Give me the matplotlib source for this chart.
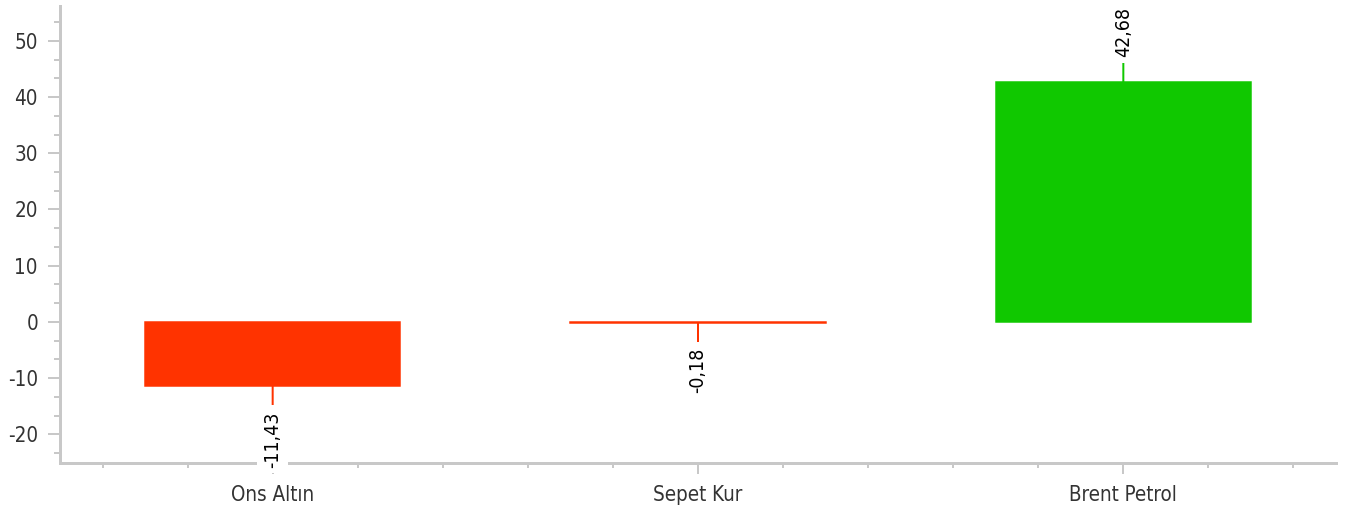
import matplotlib
matplotlib.use("Agg")
import matplotlib.pyplot as plt
from matplotlib.ticker import MultipleLocator, FixedLocator

categories = ["Ons Altın", "Sepet Kur", "Brent Petrol"]
values = [-11.43, -0.18, 42.68]
labels = ["-11,43", "-0,18", "42,68"]
colors = ["#ff3300", "#ff3300", "#10c800"]
yticks = [-20, -10, 0, 10, 20, 30, 40, 50]

DPI = 72
fig = plt.figure(figsize=(1354 / DPI, 508 / DPI), dpi=DPI)
ax = fig.add_axes([60 / 1354, 45 / 508, (1336 - 60) / 1354, 457 / 508])

FONT = dict(family=["DejaVu Sans"], stretch="condensed")
grey = "#c8c8c8"
txt = "#333333"

x = list(range(len(categories)))
ax.bar(x, values, width=0.6, color=colors, edgecolor=colors, linewidth=1.5, zorder=2)

ax.set_xlim(-0.5, 2.5)
ax.set_ylim(-25.1, 56.2)

for s in ["top", "right"]:
    ax.spines[s].set_visible(False)
for s in ["left", "bottom"]:
    ax.spines[s].set_color(grey)
    ax.spines[s].set_linewidth(3)
    ax.spines[s].set_zorder(3)

ax.set_yticks(yticks)
ax.set_yticklabels([str(v) for v in yticks])
ax.yaxis.set_minor_locator(MultipleLocator(10 / 3))
ax.set_xticks(x)
ax.set_xticklabels(categories)
ax.xaxis.set_minor_locator(FixedLocator([-0.4, -0.2, 0.2, 0.4, 0.6, 0.8, 1.2, 1.4, 1.6, 1.8, 2.2, 2.4]))

ax.tick_params(axis="y", which="major", length=12, width=2, color=grey, pad=10, labelcolor=txt)
ax.tick_params(axis="y", which="minor", length=6, width=2, color=grey)
ax.tick_params(axis="x", which="major", length=11, width=2, color=grey, pad=11, labelcolor=txt)
ax.tick_params(axis="x", which="minor", length=5, width=2, color=grey)
for lab in ax.get_yticklabels() + ax.get_xticklabels():
    lab.set_fontfamily(FONT["family"])
    lab.set_fontstretch(FONT["stretch"])
    lab.set_fontsize(20.5)

for xi, v, lab, c in zip(x, values, labels, colors):
    off = 25 if v >= 0 else -25
    ax.annotate(lab, xy=(xi, v), xytext=(0, off), textcoords="offset pixels",
                rotation=90, ha="center", va="bottom" if v >= 0 else "top",
                fontsize=19.5, color="black", family=FONT["family"], stretch=FONT["stretch"],
                bbox=dict(boxstyle="square,pad=0.3", fc="white", ec="none"),
                arrowprops=dict(arrowstyle="-", color=c, lw=2, shrinkA=0, shrinkB=0),
                annotation_clip=False, zorder=6)

fig.savefig("out.png", dpi=DPI, facecolor="white")
